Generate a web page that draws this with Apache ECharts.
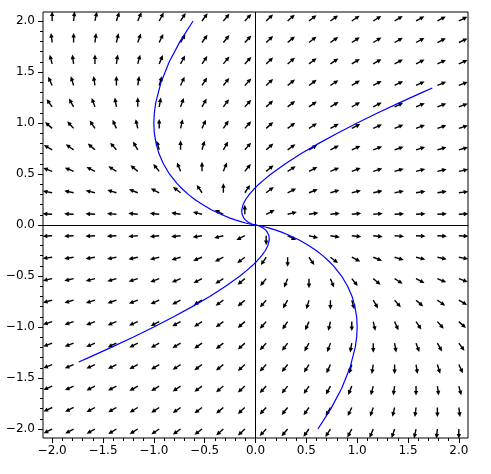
<!DOCTYPE html>
<html><head><meta charset="utf-8">
<script src="https://cdn.jsdelivr.net/npm/echarts@6/dist/echarts.min.js"></script>
<style>html,body{margin:0;padding:0;background:#fff}#c{width:491px;height:474px}</style>
</head><body><div id="c"></div>
<script>
// Grid points of the vector field (20 x 20)
const gridX = [-2, -1.789, -1.579, -1.368, -1.158, -0.947, -0.737, -0.526, -0.316, -0.105, 0.105, 0.316, 0.526, 0.737, 0.947, 1.158, 1.368, 1.579, 1.789, 2];
const gridY = [-2, -1.789, -1.579, -1.368, -1.158, -0.947, -0.737, -0.526, -0.316, -0.105, 0.105, 0.316, 0.526, 0.737, 0.947, 1.158, 1.368, 1.579, 1.789, 2];
// Arrow directions in degrees, one row per gridY value (bottom to top), one column per gridX value
const arrowAngles = [
  [207,208,209,211,212,214,216,218,221,224,227,230,234,238,242,247,252,258,264,270],
  [205,207,208,210,211,213,215,218,220,223,227,231,235,240,245,251,257,263,270,277],
  [204,205,207,208,210,212,214,217,220,223,227,231,236,242,248,255,262,270,278,285],
  [202,203,205,207,208,211,213,216,219,223,227,232,238,245,253,261,270,279,287,295],
  [200,201,203,205,207,209,211,215,218,223,228,234,241,250,260,270,280,290,299,306],
  [198,199,201,202,204,207,209,213,217,222,228,236,246,257,270,283,294,304,312,318],
  [195,196,198,199,201,204,207,210,215,221,229,240,254,270,286,300,311,319,325,330],
  [192,193,194,196,197,200,203,207,212,220,231,248,270,292,309,320,328,333,337,340],
  [188,189,189,191,192,194,197,201,207,217,236,270,304,323,333,339,343,346,348,349],
  [183,183,184,184,185,186,187,189,194,207,270,333,346,351,353,354,355,356,356,357],
  [177,176,176,175,174,173,171,166,153,90,27,14,9,7,6,5,4,4,3,3],
  [169,168,166,163,159,153,143,124,90,56,37,27,21,17,14,12,11,9,9,8],
  [160,157,153,148,140,129,112,90,68,51,40,32,27,23,20,17,16,14,13,12],
  [150,145,139,131,120,106,90,74,60,49,41,35,30,27,24,21,19,18,16,15],
  [138,132,124,114,103,90,77,66,56,48,42,37,33,29,27,24,22,21,19,18],
  [126,119,110,100,90,80,70,61,54,48,43,38,35,31,29,27,25,23,21,20],
  [115,107,99,90,81,73,65,58,52,47,43,39,36,33,31,28,27,25,23,22],
  [105,98,90,82,75,68,62,56,51,47,43,40,37,34,32,30,28,27,25,24],
  [97,90,83,77,71,65,60,55,51,47,43,40,38,35,33,31,30,28,27,25],
  [90,84,78,72,67,62,58,54,50,47,44,41,38,36,34,32,31,29,28,27]
];
// Solution curves (x, y)
const curveA = [[-0.614,2.0],[-0.742,1.8],[-0.848,1.6],[-0.929,1.4],[-0.981,1.2],[-0.995,1.1],[-1.0,1.0],[-0.995,0.9],[-0.978,0.8],[-0.950,0.7],[-0.906,0.6],[-0.847,0.5],[-0.767,0.4],[-0.717,0.35],[-0.661,0.3],[-0.597,0.25],[-0.522,0.2],[-0.435,0.15],[-0.330,0.1],[-0.256,0.07],[-0.200,0.05],[-0.135,0.03],[-0.098,0.02],[-0.056,0.01],[-0.031,0.005],[-0.014,0.002],[-0.004,0.0005]];
const curveB = [[1.739,1.343],[1.641,1.3],[1.419,1.2],[1.205,1.1],[1.0,1.0],[0.805,0.9],[0.622,0.8],[0.450,0.7],[0.294,0.6],[0.153,0.5],[0.091,0.45],[0.033,0.4],[-0.017,0.35],[-0.061,0.3],[-0.097,0.25],[-0.122,0.2],[-0.135,0.15],[-0.135,0.135],[-0.134,0.12],[-0.130,0.1],[-0.116,0.07],[-0.100,0.05],[-0.075,0.03],[-0.058,0.02],[-0.036,0.01],[-0.021,0.005],[-0.010,0.002],[-0.003,0.0005]];
const curveC = [[-1.739,-1.343],[-1.641,-1.3],[-1.419,-1.2],[-1.205,-1.1],[-1.0,-1.0],[-0.805,-0.9],[-0.622,-0.8],[-0.450,-0.7],[-0.294,-0.6],[-0.153,-0.5],[-0.091,-0.45],[-0.033,-0.4],[0.017,-0.35],[0.061,-0.3],[0.097,-0.25],[0.122,-0.2],[0.135,-0.15],[0.135,-0.135],[0.134,-0.12],[0.130,-0.1],[0.116,-0.07],[0.100,-0.05],[0.075,-0.03],[0.058,-0.02],[0.036,-0.01],[0.021,-0.005],[0.010,-0.002],[0.003,-0.0005]];
const curveD = [[0.614,-2.0],[0.742,-1.8],[0.848,-1.6],[0.929,-1.4],[0.981,-1.2],[0.995,-1.1],[1.0,-1.0],[0.995,-0.9],[0.978,-0.8],[0.950,-0.7],[0.906,-0.6],[0.847,-0.5],[0.767,-0.4],[0.717,-0.35],[0.661,-0.3],[0.597,-0.25],[0.522,-0.2],[0.435,-0.15],[0.330,-0.1],[0.256,-0.07],[0.200,-0.05],[0.135,-0.03],[0.098,-0.02],[0.056,-0.01],[0.031,-0.005],[0.014,-0.002],[0.004,-0.0005]];
// Axis ticks
const tickValues = [-2, -1.5, -1, -0.5, 0, 0.5, 1, 1.5, 2];
const tickLabels = ['\u22122.0', '\u22121.5', '\u22121.0', '\u22120.5', '0.0', '0.5', '1.0', '1.5', '2.0'];
const minorStep = 0.1;
const xRange = [-2.09, 2.09];
const yRange = [-2.088, 2.088];

const minorValues = [];
for (let k = -20; k <= 20; k++) { if (k % 5 !== 0) minorValues.push(k * minorStep); }

const arrowData = [];
for (let j = 0; j < gridY.length; j++) {
  for (let i = 0; i < gridX.length; i++) {
    arrowData.push([gridX[i], gridY[j], arrowAngles[j][i]]);
  }
}

function labelFor(v) {
  for (let k = 0; k < tickValues.length; k++) if (Math.abs(tickValues[k] - v) < 1e-9) return tickLabels[k];
  return '';
}

function renderArrow(params, api) {
  const p = api.coord([api.value(0), api.value(1)]);
  const a = api.value(2) * Math.PI / 180;
  const dx = Math.cos(a), dy = -Math.sin(a);
  const px = -dy, py = dx;
  const L = 9.5, hl = 4.6, hw = 2.2, sw = 0.7;
  const bx = p[0] + dx * (L - hl), by = p[1] + dy * (L - hl);
  const tx = p[0] + dx * L, ty = p[1] + dy * L;
  const pts = [
    [p[0] + px * sw, p[1] + py * sw],
    [bx + px * sw, by + py * sw],
    [bx + px * hw, by + py * hw],
    [tx, ty],
    [bx - px * hw, by - py * hw],
    [bx - px * sw, by - py * sw],
    [p[0] - px * sw, p[1] - py * sw]
  ];
  return { type: 'polygon', shape: { points: pts }, style: { fill: '#000' } };
}

const font = { fontFamily: 'DejaVu Sans', fontSize: 12, color: '#000' };
const curveStyle = { color: '#0000ff', width: 1.2 };
function curveSeries(d, extra) {
  return Object.assign({
    type: 'line', data: d, showSymbol: false, symbol: 'none', z: 5,
    lineStyle: curveStyle, itemStyle: { color: '#0000ff' }, silent: true,
    xAxisIndex: 0, yAxisIndex: 0
  }, extra || {});
}
const noLine = { show: false, onZero: false };
const gridRect = { left: 43, right: 23, top: 12, bottom: 36 };

const chart = echarts.init(document.getElementById('c'), null, { renderer: 'canvas' });
chart.setOption({
  animation: false,
  backgroundColor: '#fff',
  grid: [
    Object.assign({ show: true, borderColor: '#000', borderWidth: 1, backgroundColor: 'transparent' }, gridRect),
    Object.assign({ show: false }, gridRect)
  ],
  xAxis: [
    { gridIndex: 0, type: 'value', min: xRange[0], max: xRange[1], position: 'bottom',
      axisLine: noLine, splitLine: { show: false },
      axisTick: { show: true, inside: false, length: 5, customValues: tickValues, lineStyle: { color: '#000', width: 1 } },
      axisLabel: Object.assign({ show: true, margin: 7, customValues: tickValues, formatter: labelFor }, font) },
    { gridIndex: 1, type: 'value', min: xRange[0], max: xRange[1], position: 'bottom',
      axisLine: noLine, splitLine: { show: false },
      axisTick: { show: true, inside: false, length: 3, customValues: minorValues, lineStyle: { color: '#000', width: 1 } },
      axisLabel: { show: false } }
  ],
  yAxis: [
    { gridIndex: 0, type: 'value', min: yRange[0], max: yRange[1], position: 'left',
      axisLine: noLine, splitLine: { show: false },
      axisTick: { show: true, inside: false, length: 5, customValues: tickValues, lineStyle: { color: '#000', width: 1 } },
      axisLabel: Object.assign({ show: true, margin: 8, customValues: tickValues, formatter: labelFor }, font) },
    { gridIndex: 1, type: 'value', min: yRange[0], max: yRange[1], position: 'left',
      axisLine: noLine, splitLine: { show: false },
      axisTick: { show: true, inside: false, length: 3, customValues: minorValues, lineStyle: { color: '#000', width: 1 } },
      axisLabel: { show: false } }
  ],
  series: [
    { type: 'custom', renderItem: renderArrow, data: arrowData, encode: { x: 0, y: 1 }, z: 2, silent: true, clip: false,
      xAxisIndex: 0, yAxisIndex: 0 },
    curveSeries(curveA, { markLine: { silent: true, symbol: 'none', label: { show: false }, animation: false,
      lineStyle: { color: '#000', width: 1, type: 'solid' }, data: [{ xAxis: 0 }, { yAxis: 0 }] } }),
    curveSeries(curveB),
    curveSeries(curveC),
    curveSeries(curveD)
  ]
});
</script></body></html>
